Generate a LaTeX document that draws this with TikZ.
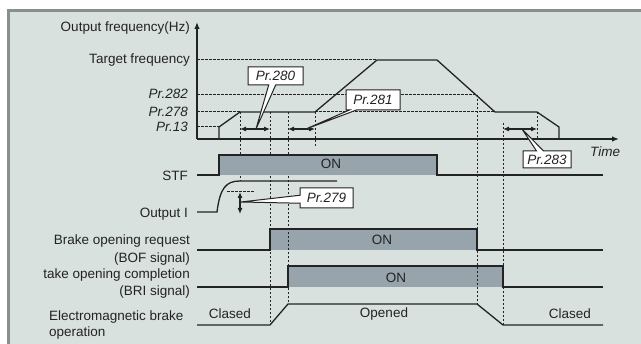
\documentclass[tikz,border=0pt]{standalone}
\usepackage{fontspec}
\setmainfont{Liberation Sans}
\usetikzlibrary{arrows.meta,shapes.callouts}
\definecolor{bgc}{RGB}{217,225,222}
\definecolor{brd}{RGB}{138,142,144}
\definecolor{barc}{RGB}{151,164,171}
\definecolor{ink}{RGB}{35,35,35}
\begin{document}
\begin{tikzpicture}[x=1pt,y=-1pt,
  sig/.style={draw=ink,line width=1.3pt},
  guide/.style={draw=ink,line width=1pt,dash pattern=on 2.5pt off 1.5pt},
  lbl/.style={anchor=base east,text=ink,font=\fontsize{13.5}{16}\selectfont,inner sep=0},
  lblw/.style={anchor=base west,text=ink,font=\fontsize{13.5}{16}\selectfont,inner sep=0},
  lblc/.style={anchor=base,text=ink,font=\fontsize{13.5}{16}\selectfont,inner sep=0},
  bar/.style={fill=barc},
  dimarr/.style={draw=ink,line width=1.1pt,{Latex[length=6pt,width=5pt]}-{Latex[length=6pt,width=5pt]}},
  axarr/.style={draw=ink,line width=1.3pt,-{Latex[length=7pt,width=5.5pt]}},
  callbox/.style={rectangle callout,draw=ink,fill=white,line width=1pt,inner sep=0,
    text=ink,font=\fontsize{13.5}{15}\selectfont\itshape,callout pointer width=7pt}
]
\useasboundingbox (0,0) rectangle (641,344);
% frame
\fill[white] (0,0) rectangle (641,344);
\fill[brd] (7,9) rectangle (641,344);
\fill[bgc] (10,12) rectangle (641,344);

% named coordinates
\coordinate (O) at (197,139);
\coordinate (Ytop) at (197,22);
\coordinate (Xend) at (619,139);
\coordinate (t280) at (256,129);
\coordinate (t281) at (306,129);
\coordinate (t279) at (241,202);
\coordinate (t283) at (522,129);

% BOF / BRI bars (under guides)
\fill[bar] (270,229) rectangle (477,250);
\fill[bar] (288,266) rectangle (503,287);

% horizontal guides
\draw[guide] (197,60) -- (377,60);
\draw[guide] (197,95) -- (477,95);
\draw[guide] (197,112) -- (240,112);
\draw[guide] (315,112) -- (495,112);
\draw[guide] (197,127) -- (219,127);
\draw[guide] (227,192) -- (255,192);
% vertical guides
\draw[guide] (240,112) -- (240,181);
\draw[guide] (270,112) -- (270,325);
\draw[guide] (288,112) -- (288,304);
\draw[guide] (315,112) -- (315,146);
\draw[guide] (477,95) -- (477,304);
\draw[guide] (503,123) -- (503,325);
\draw[guide] (537,112) -- (537,139);

% STF bar
\fill[bar] (219,155) rectangle (437,175);

% axes
\draw[axarr] (O) -- (Ytop);
\draw[axarr] (O) -- (Xend);

% frequency curve
\draw[sig] (219,139) -- (219,127) -- (240,112) -- (315,112) -- (377,60) -- (437,60)
  -- (495,112) -- (537,112) -- (559,127) -- (559,139);

% signals
\draw[sig] (197,175) -- (219,175) -- (219,155) -- (437,155) -- (437,175) -- (603,175);
\draw[sig] (197,212) -- (217,212) .. controls (220,188) and (226,181) .. (240,181) -- (337,181);
\draw[sig] (197,250) -- (270,250) -- (270,229) -- (477,229) -- (477,250) -- (603,250);
\draw[sig] (197,287) -- (288,287) -- (288,266) -- (503,266) -- (503,287) -- (603,287);
\draw[sig] (197,325) -- (270,325) -- (288,304) -- (477,304) -- (503,325) -- (603,325);

% dimension arrows
\coordinate (a1) at (240,129); \coordinate (a2) at (270,129);
\coordinate (a3) at (288,129); \coordinate (a4) at (315,129);
\coordinate (a5) at (503,129); \coordinate (a6) at (537,129);
\coordinate (a7) at (240,192); \coordinate (a8) at (240,214);
\draw[dimarr] (a1) -- (a2);
\draw[dimarr] (a3) -- (a4);
\draw[dimarr] (a5) -- (a6);
\draw[dimarr] (a7) -- (a8);
\draw[draw=ink,line width=1.1pt] (240,202) -- (t279);

% callouts
\node[callbox,callout absolute pointer={(t280)},minimum width=55pt,minimum height=18pt] (c280) at (275.5,76) {Pr.280};
\node[callbox,callout absolute pointer={(t281)},minimum width=54pt,minimum height=20pt] (c281) at (373,100) {Pr.281};
\node[callbox,callout absolute pointer={(t279)},minimum width=53pt,minimum height=20pt,callout pointer width=8pt] (c279) at (326.5,198) {Pr.279};
\node[callbox,callout absolute pointer={(t283)},minimum width=48pt,minimum height=17pt] (c283) at (547,159.5) {Pr.283};

% labels
\node[lbl] (lOF) at (190,32) {Output frequency(Hz)};
\node[lbl] (lTF) at (190,64) {Target frequency};
\node[lbl] (l282) at (188,99) {\itshape Pr.282};
\node[lbl] (l278) at (188,117) {\itshape Pr.278};
\node[lbl] (l13) at (188,132) {\itshape Pr.13};
\node[lbl] (lSTF) at (188,181) {STF};
\node[lbl] (lOI) at (188,218) {Output I};
\node[lbl] (lBOF1) at (190,245) {Brake opening request};
\node[lbl] (lBOF2) at (190,263) {(BOF signal)};
\node[lbl] (lBRI1) at (190,279) {take opening completion};
\node[lbl] (lBRI2) at (190,296) {(BRI signal)};
\node[lblw] (lEM1) at (49,321) {Electromagnetic brake};
\node[lblw] (lEM2) at (49,337) {operation};
\node[lblw] (lTime) at (590,157) {\itshape Time};

\node[lblc] (on1) at (331,169) {ON};
\node[lblc] (on2) at (382,245) {ON};
\node[lblc] (on3) at (396,283) {ON};
\node[lblc] (cl1) at (230,319) {Clased};
\node[lblc] (op1) at (384,318) {Opened};
\node[lblc] (cl2) at (570,319) {Clased};
\end{tikzpicture}
\end{document}
